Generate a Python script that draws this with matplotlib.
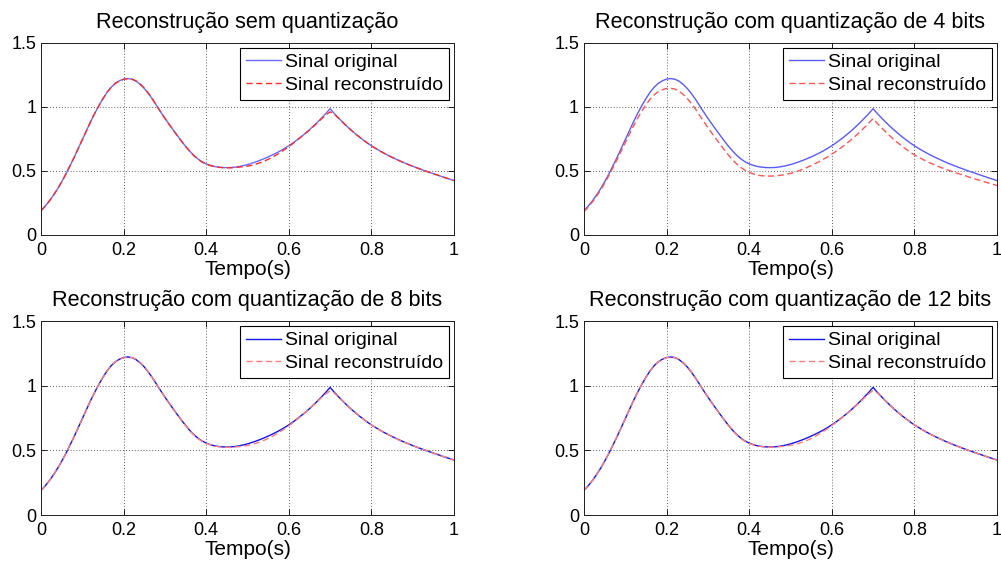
import matplotlib
matplotlib.use("Agg")
import matplotlib.pyplot as plt
import numpy as np

plt.rcParams["font.family"] = ["Liberation Sans", "DejaVu Sans"]
plt.rcParams["font.size"] = 13

# --- Sinais (amostrados a cada 0.01 s, de 0 a 1 s) ---
tempo = np.arange(101) * 0.01

sinal_original = [
    0.190, 0.225, 0.265, 0.310, 0.360, 0.415, 0.475, 0.540, 0.605, 0.675,
    0.745, 0.815, 0.885, 0.950, 1.010, 1.065, 1.115, 1.155, 1.185, 1.205,
    1.218, 1.222, 1.217, 1.202, 1.177, 1.145, 1.105, 1.060, 1.010, 0.960,
    0.912, 0.866, 0.821, 0.777, 0.734, 0.693, 0.655, 0.622, 0.594, 0.572,
    0.556, 0.544, 0.535, 0.530, 0.527, 0.526, 0.527, 0.530, 0.535, 0.542,
    0.550, 0.560, 0.571, 0.583, 0.596, 0.610, 0.625, 0.641, 0.658, 0.677,
    0.697, 0.719, 0.743, 0.768, 0.794, 0.822, 0.852, 0.883, 0.916, 0.950,
    0.987, 0.950, 0.916, 0.883, 0.852, 0.822, 0.794, 0.768, 0.743, 0.719,
    0.697, 0.677, 0.658, 0.640, 0.623, 0.607, 0.592, 0.577, 0.563, 0.550,
    0.537, 0.525, 0.513, 0.501, 0.490, 0.479, 0.468, 0.457, 0.446, 0.436,
    0.425,
]

rec_sem_quant = [
    0.190, 0.225, 0.265, 0.310, 0.360, 0.415, 0.475, 0.540, 0.605, 0.675,
    0.745, 0.815, 0.885, 0.950, 1.010, 1.065, 1.115, 1.155, 1.185, 1.205,
    1.216, 1.221, 1.218, 1.204, 1.180, 1.148, 1.108, 1.062, 1.011, 0.960,
    0.911, 0.865, 0.820, 0.776, 0.733, 0.692, 0.654, 0.620, 0.592, 0.570,
    0.554, 0.542, 0.534, 0.529, 0.526, 0.525, 0.525, 0.527, 0.530, 0.534,
    0.538, 0.544, 0.553, 0.564, 0.576, 0.591, 0.607, 0.626, 0.646, 0.668,
    0.690, 0.715, 0.741, 0.767, 0.793, 0.820, 0.849, 0.879, 0.910, 0.938,
    0.962, 0.945, 0.914, 0.882, 0.851, 0.822, 0.794, 0.768, 0.743, 0.719,
    0.697, 0.677, 0.658, 0.640, 0.623, 0.607, 0.592, 0.577, 0.563, 0.550,
    0.537, 0.525, 0.513, 0.501, 0.490, 0.479, 0.468, 0.457, 0.446, 0.436,
    0.425,
]

rec_4bits = [
    0.182, 0.217, 0.256, 0.300, 0.349, 0.403, 0.462, 0.525, 0.588, 0.655,
    0.721, 0.787, 0.853, 0.913, 0.968, 1.017, 1.061, 1.095, 1.120, 1.135,
    1.145, 1.146, 1.140, 1.124, 1.099, 1.067, 1.028, 0.984, 0.935, 0.886,
    0.839, 0.794, 0.750, 0.707, 0.664, 0.624, 0.587, 0.554, 0.527, 0.505,
    0.489, 0.477, 0.468, 0.463, 0.461, 0.460, 0.461, 0.464, 0.468, 0.474,
    0.481, 0.491, 0.502, 0.514, 0.528, 0.542, 0.558, 0.574, 0.592, 0.611,
    0.632, 0.653, 0.676, 0.700, 0.725, 0.752, 0.781, 0.811, 0.843, 0.876,
    0.910, 0.873, 0.839, 0.807, 0.776, 0.747, 0.719, 0.694, 0.670, 0.647,
    0.626, 0.608, 0.591, 0.575, 0.560, 0.546, 0.533, 0.520, 0.508, 0.497,
    0.486, 0.476, 0.466, 0.455, 0.445, 0.435, 0.425, 0.415, 0.405, 0.396,
    0.386,
]

rec_8bits = [
    0.188, 0.224, 0.265, 0.311, 0.360, 0.414, 0.475, 0.541, 0.606, 0.674,
    0.744, 0.815, 0.886, 0.950, 1.009, 1.064, 1.115, 1.156, 1.186, 1.205,
    1.215, 1.220, 1.218, 1.205, 1.181, 1.148, 1.107, 1.061, 1.011, 0.961,
    0.912, 0.864, 0.819, 0.776, 0.734, 0.693, 0.654, 0.619, 0.591, 0.570,
    0.555, 0.543, 0.534, 0.528, 0.525, 0.524, 0.524, 0.526, 0.529, 0.533,
    0.538, 0.545, 0.554, 0.565, 0.577, 0.592, 0.608, 0.626, 0.646, 0.667,
    0.689, 0.714, 0.740, 0.766, 0.793, 0.821, 0.850, 0.880, 0.910, 0.937,
    0.960, 0.944, 0.913, 0.882, 0.852, 0.823, 0.795, 0.768, 0.742, 0.718,
    0.696, 0.676, 0.657, 0.640, 0.623, 0.607, 0.591, 0.576, 0.562, 0.549,
    0.537, 0.525, 0.513, 0.502, 0.491, 0.479, 0.468, 0.457, 0.447, 0.436,
    0.424,
]

rec_12bits = [
    0.190, 0.225, 0.265, 0.310, 0.360, 0.415, 0.475, 0.540, 0.605, 0.675,
    0.745, 0.815, 0.885, 0.950, 1.010, 1.065, 1.115, 1.155, 1.185, 1.205,
    1.216, 1.221, 1.218, 1.204, 1.180, 1.148, 1.108, 1.062, 1.011, 0.960,
    0.911, 0.865, 0.820, 0.776, 0.733, 0.692, 0.654, 0.620, 0.592, 0.570,
    0.554, 0.542, 0.534, 0.529, 0.526, 0.525, 0.525, 0.527, 0.530, 0.534,
    0.539, 0.545, 0.554, 0.565, 0.577, 0.592, 0.608, 0.627, 0.647, 0.668,
    0.691, 0.716, 0.741, 0.767, 0.793, 0.820, 0.849, 0.879, 0.910, 0.939,
    0.963, 0.945, 0.914, 0.882, 0.851, 0.822, 0.794, 0.768, 0.743, 0.719,
    0.697, 0.677, 0.658, 0.640, 0.623, 0.607, 0.592, 0.577, 0.563, 0.550,
    0.537, 0.525, 0.513, 0.501, 0.490, 0.479, 0.468, 0.457, 0.446, 0.436,
    0.425,
]

titulos = [
    "Reconstrução sem quantização",
    "Reconstrução com quantização de 4 bits",
    "Reconstrução com quantização de 8 bits",
    "Reconstrução com quantização de 12 bits",
]
reconstruidos = [rec_sem_quant, rec_4bits, rec_8bits, rec_12bits]
cores_orig = ["#6a6aff", "#5a5aff", "#1414ee", "#1414ee"]
cores_rec = ["#ff2a2a", "#ff5555", "#ff7d7d", "#ff7d7d"]

x_ticks = [0, 0.2, 0.4, 0.6, 0.8, 1]
x_ticklabels = ["0", "0.2", "0.4", "0.6", "0.8", "1"]
y_ticks = [0, 0.5, 1, 1.5]
y_ticklabels = ["0", "0.5", "1", "1.5"]

# --- Layout (posições em fração da figura) ---
fig = plt.figure(figsize=(10.01, 5.68), dpi=100)
posicoes = [
    [0.041, 0.5863, 0.4125, 0.338],
    [0.5834, 0.5863, 0.4126, 0.338],
    [0.041, 0.0933, 0.4125, 0.3415],
    [0.5834, 0.0933, 0.4126, 0.3415],
]

for pos, titulo, rec, c_o, c_r in zip(posicoes, titulos, reconstruidos, cores_orig, cores_rec):
    ax = fig.add_axes(pos)
    ax.plot(tempo, sinal_original, color=c_o, lw=1.0, label="Sinal original")
    ax.plot(tempo, rec, color=c_r, lw=1.0, dashes=(4.5, 2.5), label="Sinal reconstruído")
    ax.set_xlim(0, 1)
    ax.set_ylim(0, 1.5)
    ax.set_xticks(x_ticks)
    ax.set_xticklabels(x_ticklabels)
    ax.set_yticks(y_ticks)
    ax.set_yticklabels(y_ticklabels)
    ax.grid(True, color="#303030", linestyle=(0, (1, 2.5)), linewidth=0.6)
    ax.tick_params(direction="in", length=4, width=0.6, top=True, right=True)
    ax.tick_params(axis="x", pad=5)
    ax.tick_params(axis="y", pad=3.5)
    for sp in ax.spines.values():
        sp.set_linewidth(0.7)
        sp.set_color("#202020")
    ax.set_title(titulo, pad=11)
    ax.set_xlabel("Tempo(s)", fontsize=15, labelpad=0.5)
    leg = ax.legend(loc="upper right", fancybox=False, edgecolor="black", framealpha=1,
                    fontsize=14, borderaxespad=0.25, borderpad=0.3, labelspacing=0.25,
                    handlelength=1.8, handletextpad=0.2)
    leg.get_frame().set_linewidth(0.8)

plt.savefig("out.png", dpi=100)
